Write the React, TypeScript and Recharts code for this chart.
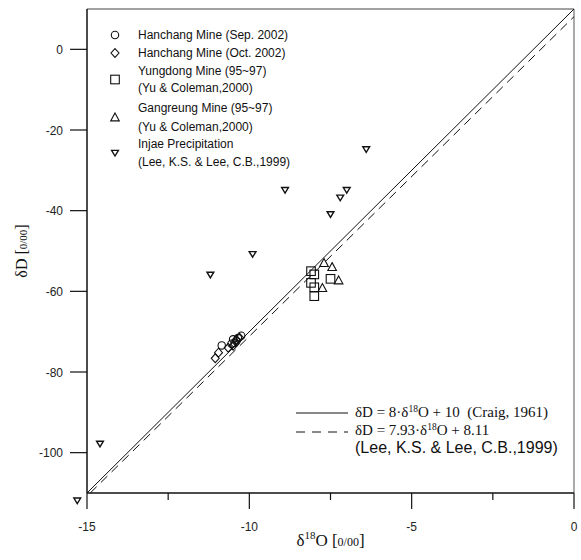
import React from "react";
import { ReferenceLine, Scatter, ScatterChart, XAxis, YAxis } from "recharts";

type Pt = [number, number];

// [δ18O, δD] pairs
const hanchangSep: Pt[] = [
  [-10.25, -71.0], [-10.35, -71.6], [-10.4, -72.4], [-10.5, -71.9],
  [-10.55, -73.0], [-10.85, -73.4], [-10.45, -72.8],
];
const hanchangOct: Pt[] = [
  [-10.4, -72.0], [-10.5, -73.5], [-10.65, -74.0], [-10.95, -75.2],
  [-11.05, -76.6], [-10.3, -71.5],
];
const yungdong: Pt[] = [
  [-8.1, -55.0], [-8.0, -55.8], [-8.1, -57.9], [-8.0, -59.0], [-8.0, -61.2], [-7.5, -56.9],
];
const gangreung: Pt[] = [[-7.7, -53.0], [-7.45, -54.0], [-7.25, -57.3], [-7.75, -59.2]];
const injae: Pt[] = [
  [-15.3, -111.9], [-14.6, -97.8], [-11.2, -55.9], [-9.9, -50.8], [-8.9, -34.9],
  [-7.5, -40.9], [-7.2, -36.8], [-7.0, -34.9], [-6.4, -24.8],
];
// meteoric water lines, end points as drawn
const craigLine: Pt[] = [[-15, -110], [0, 10]];
const leeLine: Pt[] = [[-14.9, -110], [0, 8.1]];

const xMajor = [-15, -10, -5, 0];
const xMinor = [-12.5, -7.5, -2.5];
const yTicks = [-100, -80, -60, -40, -20, 0];

const seriesLabels = [
  ["Hanchang Mine (Sep. 2002)"],
  ["Hanchang Mine (Oct. 2002)"],
  ["Yungdong Mine (95~97)", "(Yu & Coleman,2000)"],
  ["Gangreung Mine (95~97)", "(Yu & Coleman,2000)"],
  ["Injae Precipitation", "(Lee, K.S. & Lee, C.B.,1999)"],
];

const ink = "#111";
const sans = "'Liberation Sans', Arial, sans-serif";
const serif = "'Liberation Serif', 'Times New Roman', serif";

const pts = (a: Pt[]) => a.map(([x, y]) => ({ x, y }));

function Mark({ kind, cx, cy }: { kind: string; cx: number; cy: number }) {
  const s = { fill: "none", stroke: ink, strokeWidth: 1.1 };
  switch (kind) {
    case "circle":
      return <circle cx={cx} cy={cy} r={3.7} {...s} />;
    case "diamond":
      return <path d={`M${cx},${cy - 4.4}L${cx + 4},${cy}L${cx},${cy + 4.4}L${cx - 4},${cy}Z`} {...s} />;
    case "square":
      return <rect x={cx - 4.3} y={cy - 4.3} width={8.6} height={8.6} {...s} />;
    case "up":
      return <path d={`M${cx},${cy - 4.5}L${cx + 4.3},${cy + 3.4}L${cx - 4.3},${cy + 3.4}Z`} {...s} />;
    default:
      return (
        <path d={`M${cx - 3.4},${cy - 2.6}L${cx + 3.4},${cy - 2.6}L${cx},${cy + 3}Z`} {...s} strokeWidth={1.4} />
      );
  }
}
const shapeOf = (kind: string) => (p: any) => <Mark kind={kind} cx={p.cx} cy={p.cy} />;
const noDot = () => <g />;

function XTick({ x, y, payload }: any) {
  const major = xMajor.includes(payload.value);
  return (
    <g>
      <line x1={x} y1={y} x2={x} y2={y + (major ? 16 : 7)} stroke={ink} strokeWidth={1.2} />
      {major && (
        <text x={x} y={y + 38} textAnchor="middle" fontSize={12} fill="#222" fontFamily={sans}>
          {payload.value}
        </text>
      )}
    </g>
  );
}

function YTick({ x, y, payload }: any) {
  return (
    <g>
      <line x1={x - 17} y1={y} x2={x} y2={y} stroke={ink} strokeWidth={1.2} />
      <text x={x - 24} y={y + 4.5} textAnchor="end" fontSize={12} fill="#222" fontFamily={sans}>
        {payload.value}
      </text>
    </g>
  );
}

function XLabel({ viewBox }: any) {
  const { x, y, width } = viewBox;
  return (
    <text x={x + width / 2} y={y + 53} textAnchor="middle" fontSize={17} fontFamily={serif} fill={ink}>
      δ<tspan dy={-7} fontSize={11}>18</tspan>
      <tspan dy={7}>O [</tspan>
      <tspan fontSize={12}>0/00</tspan>]
    </text>
  );
}

function YLabel({ viewBox }: any) {
  const { y, height } = viewBox;
  const cx = 27;
  const cy = y + height / 2;
  return (
    <text x={cx} y={cy} transform={`rotate(-90, ${cx}, ${cy})`} textAnchor="middle" fontSize={16} fontFamily={serif} fill={ink}>
      δD [<tspan fontSize={11}>0/00</tspan>]
    </text>
  );
}

function Legends() {
  const kinds = ["circle", "diamond", "square", "up", "down"];
  const rowY = [[35], [53], [71, 88], [108, 127], [144, 162]];
  return (
    <svg width={581} height={560} style={{ position: "absolute", left: 0, top: 0, pointerEvents: "none" }}>
      {seriesLabels.map((lines, i) => {
        const ys = rowY[i];
        const my = (ys[0] + ys[ys.length - 1]) / 2;
        return (
          <g key={i}>
            <Mark kind={kinds[i]} cx={115} cy={my} />
            {lines.map((t, j) => (
              <text key={j} x={138} y={ys[j] + 4.3} fontSize={12} fontFamily={sans} fill={ink}>
                {t}
              </text>
            ))}
          </g>
        );
      })}
      <line x1={296} y1={413} x2={348} y2={413} stroke={ink} strokeWidth={1} />
      <text x={355} y={417} fontSize={15} fontFamily={serif} fill={ink} style={{ whiteSpace: "pre" }}>
        δD = 8·δ<tspan dy={-5} fontSize={9.5}>18</tspan>
        <tspan dy={5}>{"O + 10  (Craig, 1961)"}</tspan>
      </text>
      <line x1={296} y1={432} x2={348} y2={432} stroke={ink} strokeWidth={1} strokeDasharray="9 7" />
      <text x={355} y={435} fontSize={15} fontFamily={serif} fill={ink}>
        δD = 7.93·δ<tspan dy={-5} fontSize={9.5}>18</tspan>
        <tspan dy={5}>O + 8.11</tspan>
      </text>
      <text x={355} y={453} fontSize={16} fontFamily={sans} fill={ink}>
        (Lee, K.S. &amp; Lee, C.B.,1999)
      </text>
    </svg>
  );
}

export default function App() {
  return (
    <div style={{ position: "absolute", left: 0, top: 0, width: 581, height: 560, background: "#fff" }}>
      <style>{".recharts-scatter{clip-path:none}"}</style>
      <ScatterChart width={581} height={560} margin={{ top: 9, right: 7, bottom: 0, left: 0 }}>
        <XAxis
          type="number"
          dataKey="x"
          domain={[-15, 0]}
          allowDataOverflow
          ticks={[...xMajor, ...xMinor].sort((a, b) => a - b)}
          interval={0}
          height={67}
          tickSize={0}
          tickMargin={0}
          tickLine={false}
          tick={<XTick />}
          axisLine={{ stroke: ink, strokeWidth: 1.5 }}
          label={<XLabel />}
        />
        <YAxis
          type="number"
          dataKey="y"
          domain={[-110, 10]}
          allowDataOverflow
          ticks={yTicks}
          interval={0}
          width={87}
          tickSize={0}
          tickMargin={0}
          tickLine={false}
          tick={<YTick />}
          axisLine={{ stroke: ink, strokeWidth: 1.5 }}
          label={<YLabel />}
        />
        <ReferenceLine y={10} stroke="#444" strokeWidth={1} />
        <ReferenceLine x={0} stroke="#555" strokeWidth={1} />
        <Scatter data={pts(craigLine)} line={{ stroke: ink, strokeWidth: 1 }} shape={noDot} isAnimationActive={false} />
        <Scatter
          data={pts(leeLine)}
          line={{ stroke: ink, strokeWidth: 1, strokeDasharray: "9 6" }}
          shape={noDot}
          isAnimationActive={false}
        />
        <Scatter data={pts(hanchangSep)} shape={shapeOf("circle")} isAnimationActive={false} />
        <Scatter data={pts(hanchangOct)} shape={shapeOf("diamond")} isAnimationActive={false} />
        <Scatter data={pts(yungdong)} shape={shapeOf("square")} isAnimationActive={false} />
        <Scatter data={pts(gangreung)} shape={shapeOf("up")} isAnimationActive={false} />
        <Scatter data={pts(injae)} shape={shapeOf("down")} isAnimationActive={false} />
      </ScatterChart>
      <Legends />
    </div>
  );
}
